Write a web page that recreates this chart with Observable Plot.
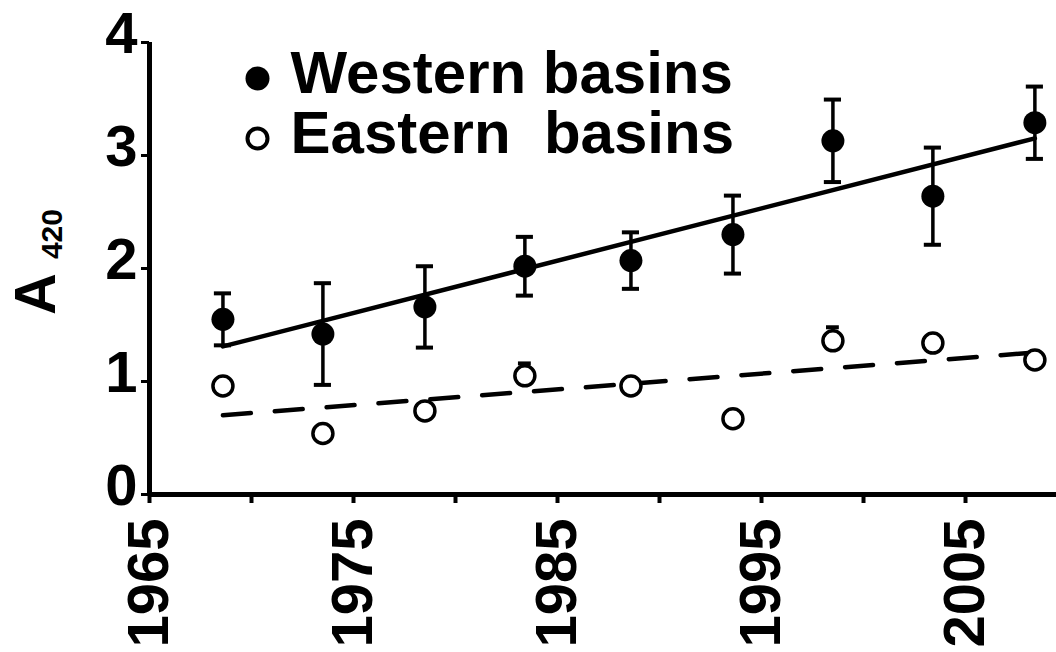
<!DOCTYPE html>
<html><head><meta charset="utf-8">
<script src="https://cdn.jsdelivr.net/npm/d3@7"></script>
<script src="https://cdn.jsdelivr.net/npm/@observablehq/plot@0.6"></script>
<style>
body{margin:0;background:#fff}
svg{display:block}
svg text{white-space:pre}
</style>
</head><body><div id="chart"></div>
<script>
const years = [1968.6, 1973.5, 1978.5, 1983.4, 1988.6, 1993.6, 1998.5, 2003.4, 2008.4];
const western = [1.55, 1.42, 1.66, 2.02, 2.07, 2.30, 3.13, 2.64, 3.29];
const westernErr = [0.23, 0.45, 0.36, 0.26, 0.25, 0.345, 0.365, 0.43, 0.32];
const eastern = [0.96, 0.54, 0.74, 1.05, 0.96, 0.67, 1.36, 1.34, 1.19];
const easternErr = [0.05, 0.05, 0.05, 0.11, 0.05, 0.05, 0.12, 0.06, 0.06];
const xTicks = [1965, 1970, 1975, 1980, 1985, 1990, 1995, 2000, 2005];
const xLabels = [1965, 1975, 1985, 1995, 2005];
const yTicks = [0, 1, 2, 3, 4];
const seriesNames = ["Western basins", "Eastern  basins"];

const west = years.map((year, i) => ({year, v: western[i], e: westernErr[i]}));
const east = years.map((year, i) => ({year, v: eastern[i], e: easternErr[i]}));
const capHalf = 0.42;

const font = "Liberation Sans, Arial, Helvetica, sans-serif";
const fmt = d => String(d);

const plot = Plot.plot({
  width: 1056,
  height: 652,
  marginLeft: 149,
  marginRight: 0,
  marginTop: 42,
  marginBottom: 158,
  style: {fontFamily: font, fontWeight: "bold", background: "#fff", color: "#000"},
  x: {domain: [1965, 2009.46]},
  y: {domain: [0, 4]},
  marks: [
    // regression lines
    Plot.linearRegressionY(west, {x: "year", y: "v", ci: 0, stroke: "#000", strokeWidth: 4.5}),
    Plot.linearRegressionY(east, {x: "year", y: "v", ci: 0, stroke: "#000", strokeWidth: 4.5, strokeDasharray: "28,24"}),
    // error bars (western: both directions)
    Plot.ruleX(west, {x: "year", y1: d => d.v - d.e, y2: d => d.v + d.e, stroke: "#000", strokeWidth: 3.5}),
    Plot.ruleY(west, {y: d => d.v + d.e, x1: d => d.year - capHalf, x2: d => d.year + capHalf, stroke: "#000", strokeWidth: 4}),
    Plot.ruleY(west, {y: d => d.v - d.e, x1: d => d.year - capHalf, x2: d => d.year + capHalf, stroke: "#000", strokeWidth: 4}),
    // error bars (eastern: upward only)
    Plot.ruleX(east, {x: "year", y1: "v", y2: d => d.v + d.e, stroke: "#000", strokeWidth: 3.5}),
    Plot.ruleY(east, {y: d => d.v + d.e, x1: d => d.year - capHalf * 0.75, x2: d => d.year + capHalf * 0.75, stroke: "#000", strokeWidth: 4}),
    // points
    Plot.dot(east, {x: "year", y: "v", r: 10, fill: "#fff", stroke: "#000", strokeWidth: 3.5}),
    Plot.dot(west, {x: "year", y: "v", r: 11.5, fill: "#000"}),
    // axis lines
    Plot.ruleY([0], {stroke: "#000", strokeWidth: 5}),
    Plot.ruleX([1965], {y1: 0, y2: 4, stroke: "#000", strokeWidth: 5}),
    // y axis
    Plot.axisY(yTicks, {fill: "none", tickSize: 8, stroke: "#000", strokeWidth: 3, label: null}),
    Plot.axisY(yTicks, {tickSize: 0, tickPadding: 12, dy: -8, tickFormat: fmt, fontSize: 58, fontWeight: "bold", fill: "#000", label: null}),
    // x axis
    Plot.axisX(xTicks, {fill: "none", tickSize: 9, stroke: "#000", strokeWidth: 4, label: null}),
    Plot.axisX(xLabels, {tickSize: 0, tickPadding: 24, tickRotate: -90, tickFormat: fmt, fontSize: 58, fontWeight: "bold", fill: "#000", label: null}),
    // legend
    Plot.dot([seriesNames[0]], {frameAnchor: "top-left", dx: 108, dy: 36, r: 12, fill: "#000"}),
    Plot.dot([seriesNames[1]], {frameAnchor: "top-left", dx: 108, dy: 96, r: 10, fill: "#fff", stroke: "#000", strokeWidth: 4}),
    Plot.text([seriesNames[0]], {frameAnchor: "top-left", dx: 141, dy: 50, textAnchor: "start", lineAnchor: "bottom", fontSize: 60, fontWeight: "bold", fill: "#000"}),
    Plot.text([seriesNames[1]], {frameAnchor: "top-left", dx: 141, dy: 110, textAnchor: "start", lineAnchor: "bottom", fontSize: 60, fontWeight: "bold", fill: "#000"})
  ]
});

// y-axis label with subscript
const svg = d3.select(plot);
const lab = svg.append("text")
  .attr("transform", "translate(55,262) rotate(-90)")
  .attr("text-anchor", "middle")
  .attr("font-family", font)
  .attr("font-weight", "bold")
  .attr("fill", "#000");
lab.append("tspan").attr("font-size", 58).text("A");
lab.append("tspan").attr("font-size", 30).attr("dx", 14).attr("dy", 7).text("420");

document.getElementById("chart").appendChild(plot);
</script>
</body></html>
